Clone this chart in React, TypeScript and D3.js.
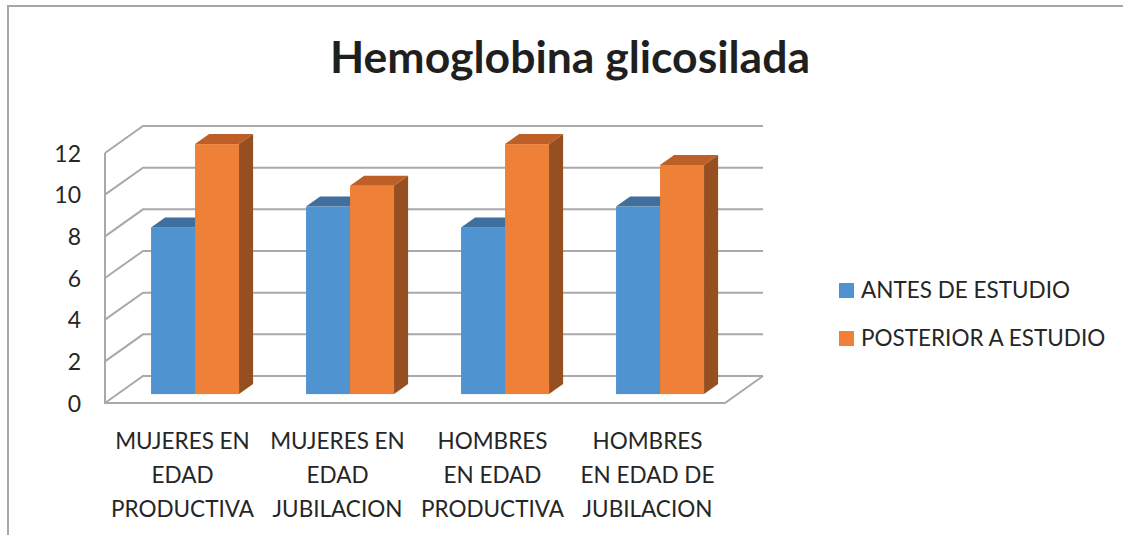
import { useEffect, useRef } from 'react';
import * as d3 from 'd3';

const categories = [
  ['MUJERES EN', 'EDAD', 'PRODUCTIVA'],
  ['MUJERES EN', 'EDAD', 'JUBILACION'],
  ['HOMBRES', 'EN EDAD', 'PRODUCTIVA'],
  ['HOMBRES', 'EN EDAD DE', 'JUBILACION'],
];
const seriesNames = ['ANTES DE ESTUDIO', 'POSTERIOR A ESTUDIO'];
const antes = [8, 9, 8, 9];
const posterior = [12, 10, 12, 11];
const yTicks = [0, 2, 4, 6, 8, 10, 12];

const FONT = 'Lato, "Open Sans", sans-serif';

// face colours: front, top, side
const palette = [
  { front: '#5093d1', top: '#3f6f9c', side: '#325a80' },
  { front: '#ee8037', top: '#bd5f27', side: '#954f20' },
];

export default function App() {
  const ref = useRef<SVGSVGElement | null>(null);

  useEffect(() => {
    const el = ref.current;
    if (!el) return;
    const svg = d3.select(el);
    svg.selectAll('*').remove();

    // chart frame
    svg.append('path')
      .attr('d', 'M8,535 L8,6 L1123,6')
      .attr('fill', 'none')
      .attr('stroke', '#a7a7ab')
      .attr('stroke-width', 2);

    svg.append('text')
      .text('Hemoglobina glicosilada')
      .attr('x', 570)
      .attr('y', 73)
      .attr('text-anchor', 'middle')
      .attr('font-family', FONT)
      .attr('font-weight', 700)
      .attr('font-size', 44.5)
      .attr('fill', '#1f1f1f');

    // 3D box: depth vector
    const DX = 38;
    const DY = -27;
    const y = d3.scaleLinear().domain([0, 12]).range([403, 153]);
    const x0 = 105;
    const x1 = 725;
    const gridColor = '#a9a9ad';

    const grid = svg.append('g').attr('stroke', gridColor).attr('stroke-width', 2).attr('fill', 'none');
    yTicks.forEach((t) => {
      grid.append('path').attr('d', `M${x0},${y(t)} L${x0 + DX},${y(t) + DY} L${x1 + DX},${y(t) + DY}`);
    });
    grid.append('path').attr('d', `M${x0},${y(12)} L${x0},${y(0)} L${x1},${y(0)} L${x1 + DX},${y(0) + DY}`);

    svg.append('g')
      .selectAll('text')
      .data(yTicks)
      .join('text')
      .text((d) => d)
      .attr('x', 81)
      .attr('y', (d) => y(d) + 8.5)
      .attr('text-anchor', 'end')
      .attr('font-family', FONT)
      .attr('font-size', 23)
      .attr('fill', '#262626');

    // bars
    const xb = d3.scaleBand<number>()
      .domain(d3.range(categories.length))
      .range([x0, x1])
      .paddingInner(67 / 155)
      .paddingOuter(67 / 155 / 2);
    const xs = d3.scaleBand<number>().domain([0, 1]).range([0, xb.bandwidth()]);
    const t0 = 0.33;
    const t1 = 0.7;
    const ox = DX * t0;
    const oy = DY * t0;
    const dx = DX * (t1 - t0);
    const dy = DY * (t1 - t0);
    const w = xs.bandwidth();

    const bars = svg.append('g');
    categories.forEach((_, i) => {
      [antes[i], posterior[i]].forEach((v, s) => {
        const c = palette[s];
        const bx = (xb(i) ?? 0) + (xs(s) ?? 0) + ox;
        const top = y(v) + oy;
        const bot = y(0) + oy;
        bars.append('rect')
          .attr('x', bx).attr('y', top).attr('width', w).attr('height', bot - top)
          .attr('fill', c.front);
        bars.append('path')
          .attr('d', `M${bx},${top} L${bx + w},${top} L${bx + w + dx},${top + dy} L${bx + dx},${top + dy}Z`)
          .attr('fill', c.top);
        bars.append('path')
          .attr('d', `M${bx + w},${top} L${bx + w + dx},${top + dy} L${bx + w + dx},${bot + dy} L${bx + w},${bot}Z`)
          .attr('fill', c.side);
      });
    });

    // category labels, centred under each category on the front edge of the floor
    const xl = d3.scaleBand<number>().domain(d3.range(categories.length)).range([x0, x1]);
    const lab = svg.append('g')
      .attr('font-family', FONT)
      .attr('font-size', 22.5)
      .attr('fill', '#262626')
      .attr('text-anchor', 'middle');
    categories.forEach((lines, i) => {
      lines.forEach((ln, j) => {
        lab.append('text')
          .text(ln)
          .attr('x', (xl(i) ?? 0) + xl.bandwidth() / 2)
          .attr('y', 449 + j * 34);
      });
    });

    // legend
    const leg = svg.append('g');
    seriesNames.forEach((name, i) => {
      leg.append('rect')
        .attr('x', 839).attr('y', 283 + i * 48).attr('width', 15).attr('height', 15)
        .attr('fill', palette[i].front);
      leg.append('text')
        .text(name)
        .attr('x', 861).attr('y', 298 + i * 48)
        .attr('font-family', FONT)
        .attr('font-size', 22.5)
        .attr('fill', '#262626');
    });
  }, []);

  return (
    <svg
      ref={ref}
      width={1123}
      height={535}
      style={{ position: 'fixed', left: 0, top: 0, background: '#fff' }}
    />
  );
}
